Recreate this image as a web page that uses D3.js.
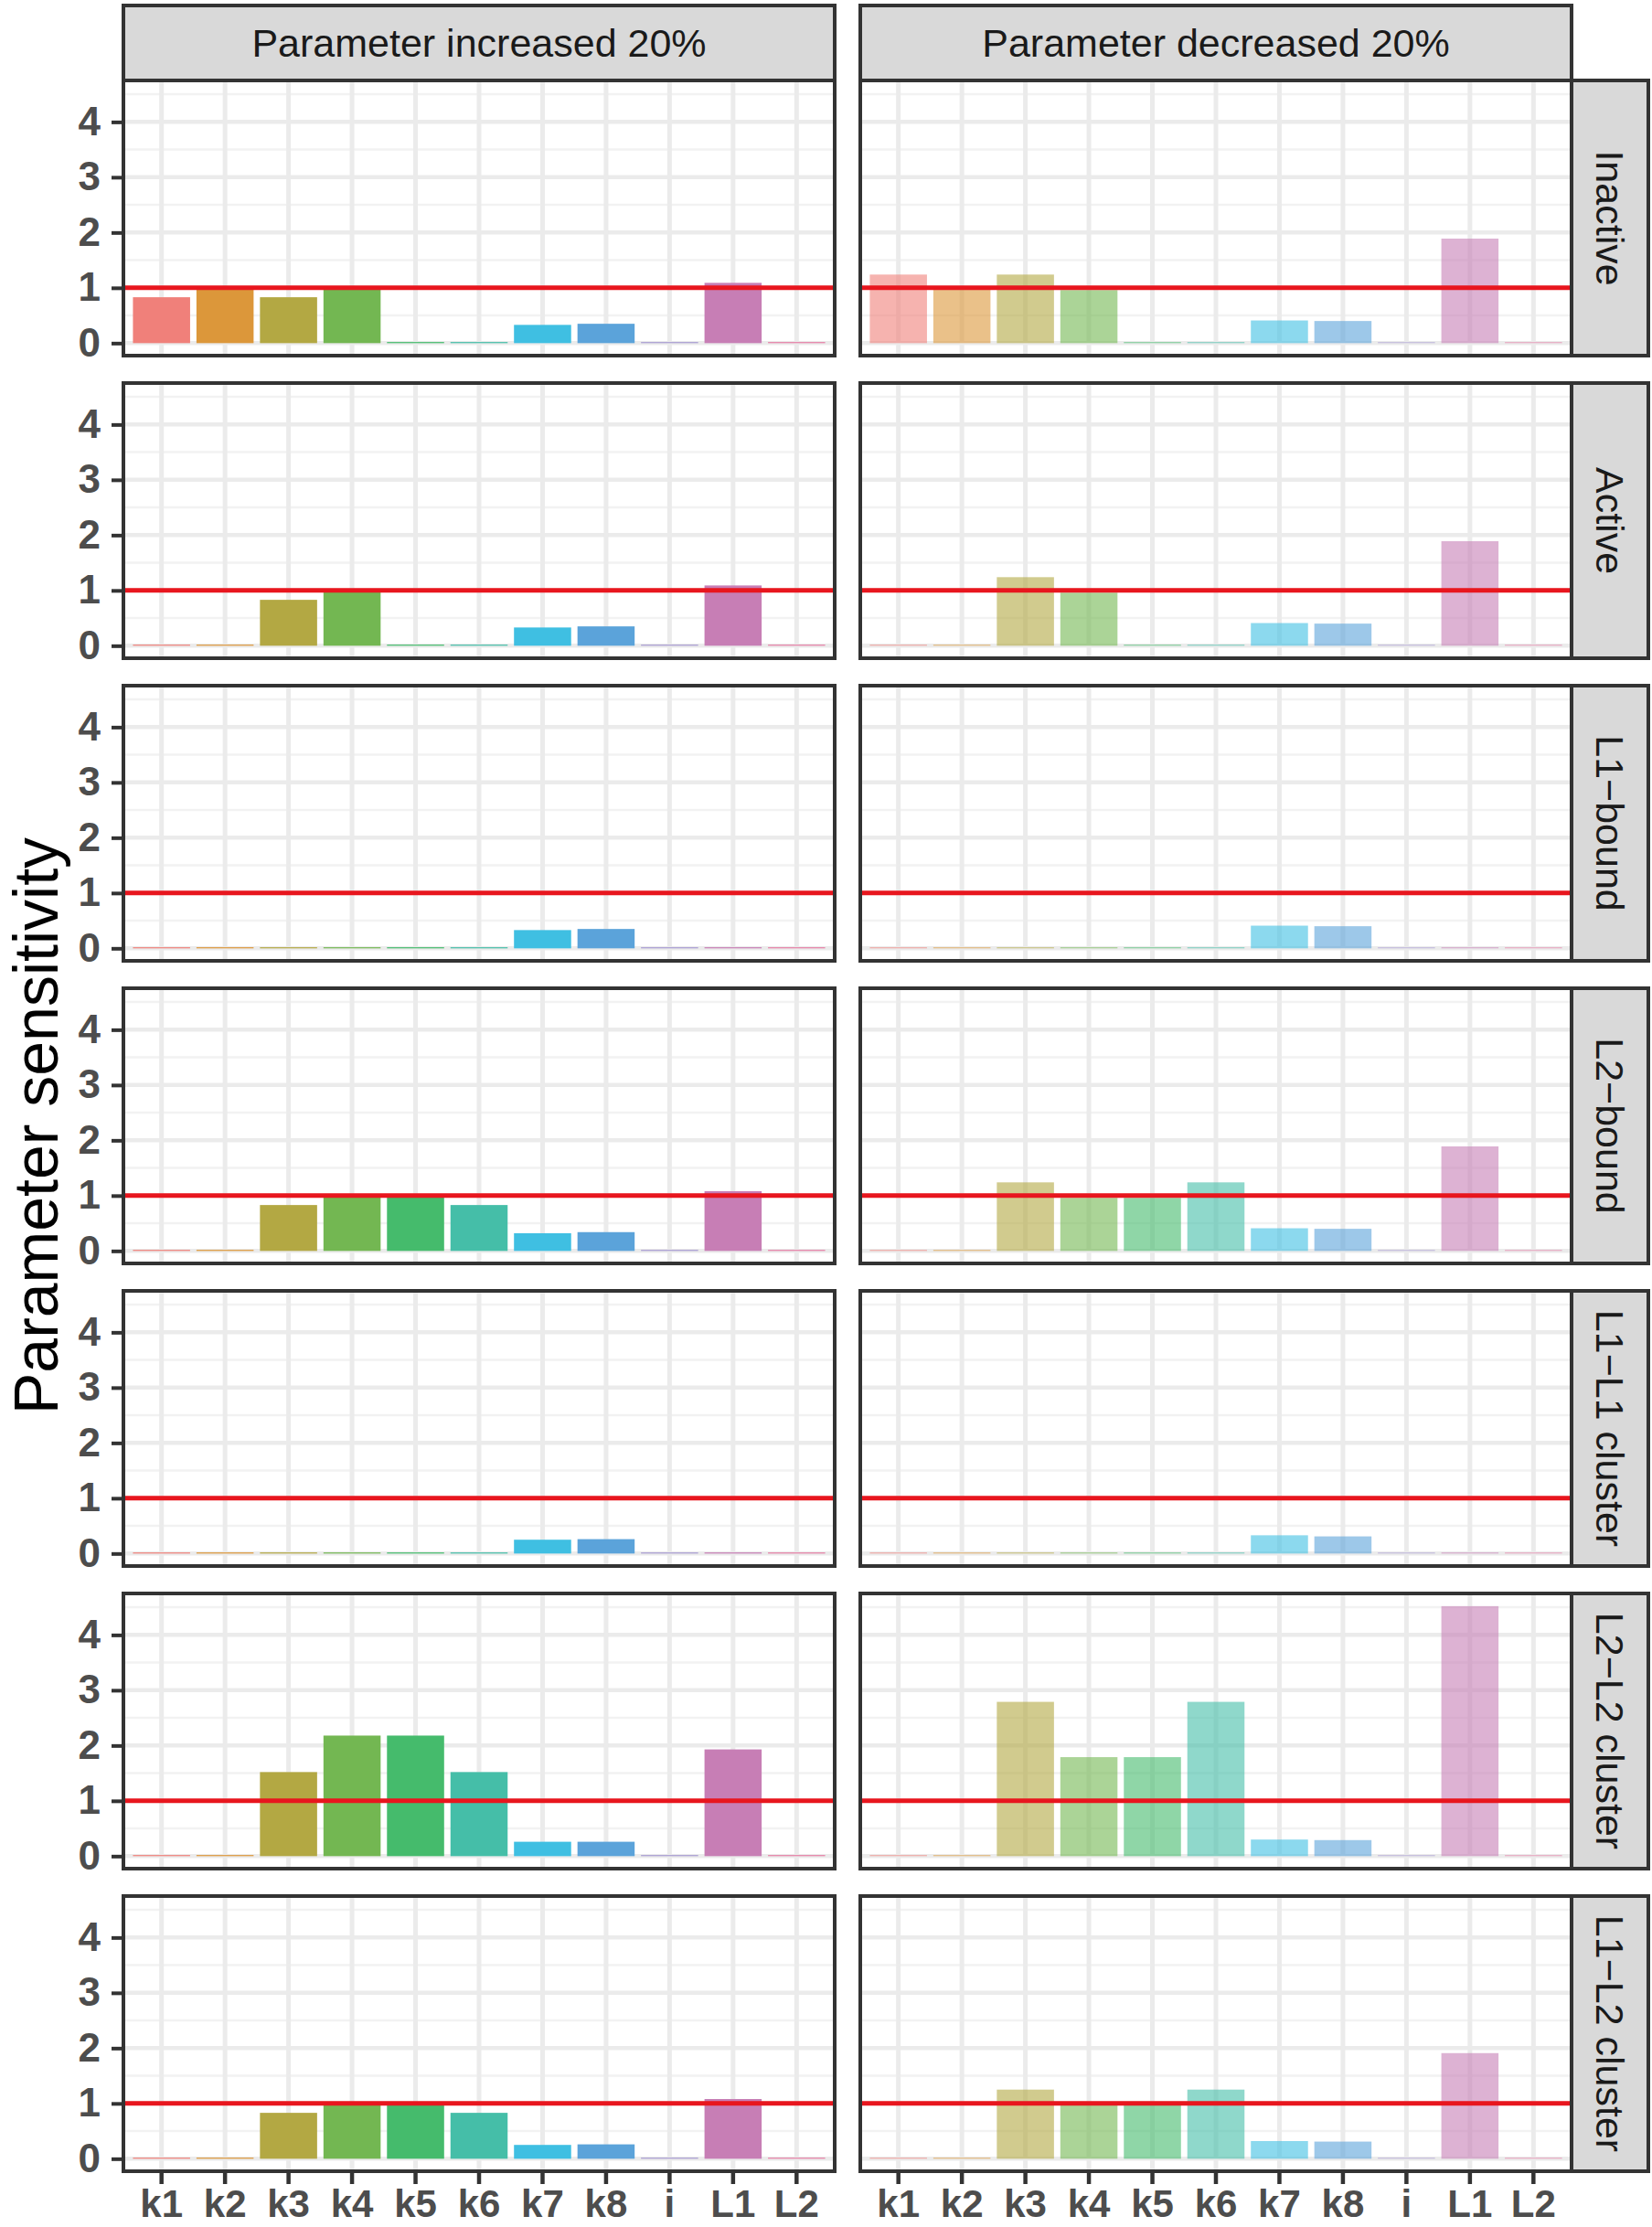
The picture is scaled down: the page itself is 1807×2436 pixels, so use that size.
<!DOCTYPE html>
<html>
<head>
<meta charset="utf-8">
<script src="https://cdn.jsdelivr.net/npm/d3@7"></script>
<style>
  body { margin: 0; background: #fff; }
  svg { display: block; font-family: "Liberation Sans", Arial, sans-serif; }
</style>
</head>
<body>
<div id="chart"></div>
<script>
const params = ["k1", "k2", "k3", "k4", "k5", "k6", "k7", "k8", "i", "L1", "L2"];
const states = ["Inactive", "Active", "L1\u2212bound", "L2\u2212bound", "L1\u2212L1 cluster", "L2\u2212L2 cluster", "L1\u2212L2 cluster"];
const directions = ["Parameter increased 20%", "Parameter decreased 20%"];
const yTicks = [0, 1, 2, 3, 4];
const yMinor = [0.5, 1.5, 2.5, 3.5, 4.5];
const threshold = 1;

// sensitivity values, one array per state, parameter increased 20%
const upInactive = [0.83, 0.99, 0.83, 0.98, 0.02, 0.02, 0.33, 0.35, 0.02, 1.09, 0.02];
const upActive   = [0.02, 0.02, 0.83, 0.98, 0.02, 0.02, 0.33, 0.35, 0.02, 1.09, 0.02];
const upL1bound  = [0.02, 0.02, 0.02, 0.02, 0.02, 0.02, 0.33, 0.35, 0.02, 0.02, 0.02];
const upL2bound  = [0.02, 0.02, 0.83, 0.98, 0.98, 0.83, 0.32, 0.34, 0.02, 1.08, 0.02];
const upL1L1     = [0.02, 0.02, 0.02, 0.02, 0.02, 0.02, 0.25, 0.26, 0.02, 0.02, 0.02];
const upL2L2     = [0.02, 0.02, 1.52, 2.18, 2.18, 1.52, 0.26, 0.26, 0.02, 1.93, 0.02];
const upL1L2     = [0.02, 0.02, 0.83, 0.98, 0.98, 0.83, 0.25, 0.26, 0.02, 1.08, 0.02];

// parameter decreased 20%
const downInactive = [1.24, 0.97, 1.24, 0.96, 0.02, 0.02, 0.41, 0.40, 0.02, 1.89, 0.02];
const downActive   = [0.02, 0.02, 1.24, 0.96, 0.02, 0.02, 0.41, 0.40, 0.02, 1.89, 0.02];
const downL1bound  = [0.02, 0.02, 0.02, 0.02, 0.02, 0.02, 0.41, 0.40, 0.02, 0.02, 0.02];
const downL2bound  = [0.02, 0.02, 1.24, 0.96, 0.96, 1.24, 0.41, 0.40, 0.02, 1.89, 0.02];
const downL1L1     = [0.02, 0.02, 0.02, 0.02, 0.02, 0.02, 0.33, 0.31, 0.02, 0.02, 0.02];
const downL2L2     = [0.02, 0.02, 2.79, 1.79, 1.79, 2.79, 0.30, 0.29, 0.02, 4.52, 0.02];
const downL1L2     = [0.02, 0.02, 1.25, 0.97, 0.97, 1.25, 0.32, 0.31, 0.02, 1.91, 0.02];

const increased = [upInactive, upActive, upL1bound, upL2bound, upL1L1, upL2L2, upL1L2];
const decreased = [downInactive, downActive, downL1bound, downL2bound, downL1L1, downL2L2, downL1L2];

const fills = ["#F0807A", "#DC973A", "#B3A843", "#73B752", "#45BB6C", "#45BEA8",
               "#3FBFE2", "#5BA3DA", "#A89CD2", "#C77EB5", "#E67FA6"];

const width = 1807, height = 2436;
const colLeft = [135, 941];
const panelW = 778, panelH = 301;
const rowTop = 88, rowStep = 331;
const stripTop = 6, stripRight = 84;

const svg = d3.select("#chart").append("svg")
    .attr("width", width)
    .attr("height", height);

const x = d3.scaleBand()
    .domain(params)
    .range([0, panelW])
    .paddingInner(0.1)
    .paddingOuter(0.15);

const y = d3.scaleLinear()
    .domain([-0.226, 4.75])
    .range([panelH, 0]);

const color = d3.scaleOrdinal().domain(params).range(fills);

// column strips on top
directions.forEach((label, c) => {
    const g = svg.append("g").attr("transform", `translate(${colLeft[c]},${stripTop})`);
    g.append("rect")
        .attr("width", panelW)
        .attr("height", rowTop - stripTop)
        .attr("fill", "#D9D9D9")
        .attr("stroke", "#333")
        .attr("stroke-width", 4);
    g.append("text")
        .attr("x", panelW / 2)
        .attr("y", (rowTop - stripTop) / 2)
        .attr("text-anchor", "middle")
        .attr("dominant-baseline", "central")
        .style("font-size", "43px")
        .style("fill", "#1A1A1A")
        .text(label);
});

states.forEach((state, r) => {
    const top = rowTop + r * rowStep;

    [increased[r], decreased[r]].forEach((values, c) => {
        const g = svg.append("g").attr("transform", `translate(${colLeft[c]},${top})`);
        const rows = params.map((p, i) => ({ name: p, value: values[i] }));

        g.append("rect")
            .attr("width", panelW)
            .attr("height", panelH)
            .attr("fill", "#fff");

        g.selectAll(".minor")
            .data(yMinor)
            .enter()
            .append("line")
            .attr("x1", 0).attr("x2", panelW)
            .attr("y1", d => y(d)).attr("y2", d => y(d))
            .attr("stroke", "#F2F2F2")
            .attr("stroke-width", 2.5);

        g.selectAll(".hmajor")
            .data(yTicks)
            .enter()
            .append("line")
            .attr("x1", 0).attr("x2", panelW)
            .attr("y1", d => y(d)).attr("y2", d => y(d))
            .attr("stroke", "#EBEBEB")
            .attr("stroke-width", 4.5);

        g.selectAll(".vmajor")
            .data(params)
            .enter()
            .append("line")
            .attr("x1", d => x(d) + x.bandwidth() / 2)
            .attr("x2", d => x(d) + x.bandwidth() / 2)
            .attr("y1", 0).attr("y2", panelH)
            .attr("stroke", "#EBEBEB")
            .attr("stroke-width", 5);

        g.selectAll(".bar")
            .data(rows)
            .enter()
            .append("rect")
            .attr("x", d => x(d.name))
            .attr("y", d => y(d.value))
            .attr("width", x.bandwidth())
            .attr("height", d => y(0) - y(d.value))
            .attr("fill", d => color(d.name))
            .attr("fill-opacity", c === 0 ? 1 : 0.6);

        g.append("line")
            .attr("x1", 0).attr("x2", panelW)
            .attr("y1", y(threshold)).attr("y2", y(threshold))
            .attr("stroke", "#E8161E")
            .attr("stroke-width", 5);

        g.append("rect")
            .attr("width", panelW)
            .attr("height", panelH)
            .attr("fill", "none")
            .attr("stroke", "#333")
            .attr("stroke-width", 4);

        if (c === 0) {
            const ax = g.append("g")
                .call(d3.axisLeft(y).tickValues(yTicks).tickFormat(d3.format("d")).tickSize(13).tickPadding(12));
            ax.select(".domain").remove();
            ax.selectAll("line").attr("stroke", "#333").attr("stroke-width", 4);
            ax.selectAll("text")
                .style("font-size", "44px")
                .style("font-weight", "bold")
                .style("font-family", "'Liberation Sans', Arial, sans-serif")
                .attr("fill", "#4D4D4D");
        }

        if (r === states.length - 1) {
            const ax = g.append("g")
                .attr("transform", `translate(0,${panelH})`)
                .call(d3.axisBottom(x).tickSize(14).tickPadding(6));
            ax.select(".domain").remove();
            ax.selectAll("line").attr("stroke", "#333").attr("stroke-width", 4.5);
            ax.selectAll("text")
                .style("font-size", "42px")
                .style("font-weight", "bold")
                .style("font-family", "'Liberation Sans', Arial, sans-serif")
                .attr("fill", "#4D4D4D");
        }
    });

    // row strip on the right
    const sx = colLeft[1] + panelW;
    const s = svg.append("g").attr("transform", `translate(${sx},${top})`);
    s.append("rect")
        .attr("width", stripRight)
        .attr("height", panelH)
        .attr("fill", "#D9D9D9")
        .attr("stroke", "#333")
        .attr("stroke-width", 4);
    s.append("text")
        .attr("transform", `translate(${stripRight / 2},${panelH / 2}) rotate(90)`)
        .attr("text-anchor", "middle")
        .attr("dominant-baseline", "central")
        .style("font-size", "43px")
        .style("fill", "#1A1A1A")
        .text(state);
});

// y axis title
svg.append("text")
    .attr("transform", `translate(63,${rowTop + (rowStep * (states.length - 1) + panelH) / 2}) rotate(-90)`)
    .attr("text-anchor", "middle")
    .style("font-size", "68px")
    .style("fill", "#000")
    .text("Parameter sensitivity");
</script>
</body>
</html>
